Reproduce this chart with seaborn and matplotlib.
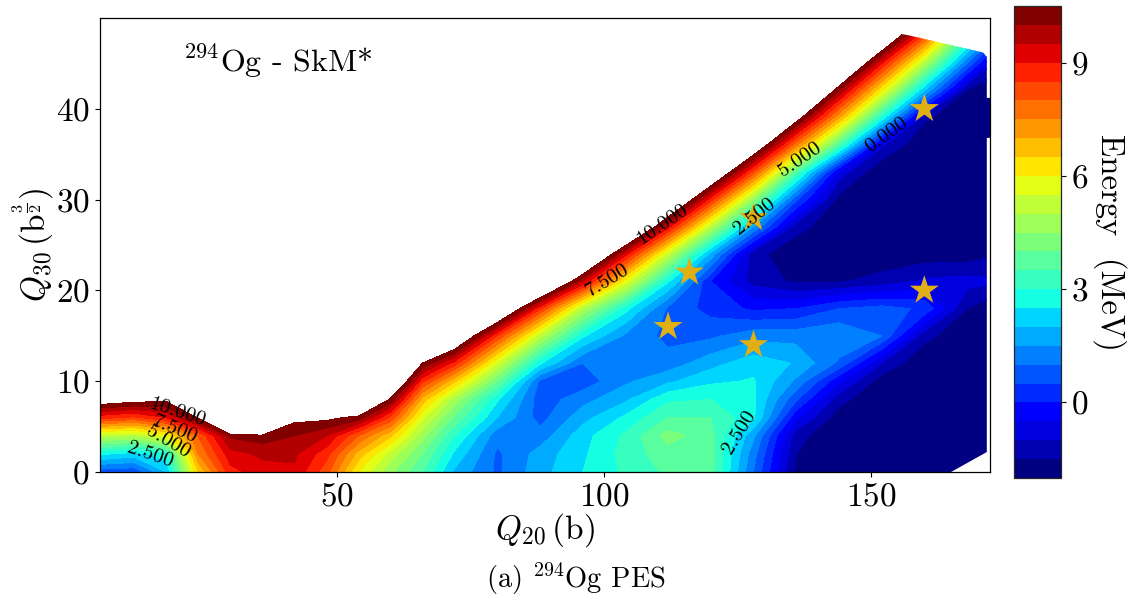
import matplotlib
matplotlib.use('Agg')
import matplotlib.pyplot as plt
from matplotlib.path import Path
import numpy as np
import pandas as pd
import seaborn as sns

# Q20 (b) columns and Q30 rows of the energy table, values in MeV
q20 = [5.6, 12, 18, 24, 30, 36, 42, 48, 54, 60, 66, 72, 80, 88, 96, 104, 112, 120, 128, 136, 144, 152, 160, 168, 172.3]
q30 = [0, 2, 4, 6, 8, 10, 12, 15, 18, 21, 24, 27, 30, 33, 36, 39, 42, 45, 48, 50]

e00 = [0.7, 0.6, 2.0, 6.5, 8.8, 9.3, 9.4, 8.2, 6.0, 4.6, 3.5, 1.9, 0.9, 1.8, 2.5, 3.1, 3.6, 3.7, 1.0, -1.7, -2, -2, -2, -2, -2]
e02 = [2.6, 2.3, 2.8, 7.5, 9.3, 9.6, 9.6, 8.7, 6.8, 5.3, 4.0, 2.4, 0.9, 1.7, 2.4, 3.2, 3.8, 3.7, 1.2, -1.5, -2, -2, -2, -2, -2]
e04 = [5.2, 5.0, 5.8, 8.0, 10.1, 10.3, 10.0, 9.5, 8.0, 6.6, 4.7, 3.0, 1.2, 1.2, 2.3, 3.1, 4.2, 3.7, 1.6, -1.3, -2, -2, -2, -2, -2]
e06 = [8.7, 8.4, 9.0, 10.6, 15, 17, 10.7, 10.7, 10.3, 8.4, 5.6, 3.9, 2.0, 0.8, 1.8, 2.6, 3.5, 3.5, 2.6, -0.4, -1.8, -2, -2, -2, -2]
e08 = [11.2, 10.9, 10.7, 14, 19, 20, 17, 15, 13, 10.4, 6.8, 4.8, 2.6, 0.7, 1.3, 1.9, 2.9, 3.0, 2.6, 0.6, -1.3, -2, -2, -2, -2]
e10 = [20, 20, 20, 20, 20, 20, 20, 20, 18, 12.5, 8.6, 6.6, 4.0, 0.9, 0.7, 1.4, 1.9, 2.4, 2.55, 1.4, -0.4, -1.8, -2, -2, -2]
e12 = [20, 20, 20, 20, 20, 20, 20, 20, 20, 15, 10.5, 8.8, 5.5, 2.6, 1.0, 1.2, 1.2, 1.8, 2.3, 1.95, 0.9, -1.0, -2, -2, -2]
e15 = [20, 20, 20, 20, 20, 20, 20, 20, 20, 20, 16, 12.2, 8.5, 5.2, 2.6, 1.4, 0.85, 0.9, 1.3, 1.3, 1.45, 1.0, -1.3, -2, -2]
e18 = [20, 20, 20, 20, 20, 20, 20, 20, 20, 20, 20, 17, 12.6, 8.6, 5.0, 2.7, 0.9, 0.3, -0.1, 0, 0.5, 0.7, 0.4, -1.5, -1.9]
e21 = [20, 20, 20, 20, 20, 20, 20, 20, 20, 20, 20, 20, 17.5, 13.4, 9.5, 5.8, 2.6, 0, -1.2, -1.6, -1.55, -1.3, -0.9, -0.8, -0.9]
e24 = [20, 20, 20, 20, 20, 20, 20, 20, 20, 20, 20, 20, 20, 17.5, 13.4, 9.2, 5.3, 1.8, -1.3, -1.9, -1.9, -1.9, -1.8, -1.8, -1.6]
e27 = [20, 20, 20, 20, 20, 20, 20, 20, 20, 20, 20, 20, 20, 20, 17.5, 13.4, 9.2, 5.1, 1.5, -1.3, -1.9, -2, -2, -2, -2]
e30 = [20, 20, 20, 20, 20, 20, 20, 20, 20, 20, 20, 20, 20, 20, 20, 17, 12.8, 8.7, 4.5, 0.6, -1.7, -2, -2, -2, -2]
e33 = [20, 20, 20, 20, 20, 20, 20, 20, 20, 20, 20, 20, 20, 20, 20, 20, 16.5, 12.3, 8.2, 3.5, -0.7, -2, -2, -2, -2]
e36 = [20, 20, 20, 20, 20, 20, 20, 20, 20, 20, 20, 20, 20, 20, 20, 20, 20, 16, 11.8, 7.6, 3.5, -0.9, -2, -2, -2]
e39 = [20, 20, 20, 20, 20, 20, 20, 20, 20, 20, 20, 20, 20, 20, 20, 20, 20, 19.3, 15.2, 11, 7, 2.8, -1.4, -2, -2]
e42 = [20, 20, 20, 20, 20, 20, 20, 20, 20, 20, 20, 20, 20, 20, 20, 20, 20, 20, 18.3, 14.1, 10, 6, 2, -1.6, -2]
e45 = [20, 20, 20, 20, 20, 20, 20, 20, 20, 20, 20, 20, 20, 20, 20, 20, 20, 20, 20, 17.2, 13.1, 9, 5, 1, -0.9]
e48 = [20, 20, 20, 20, 20, 20, 20, 20, 20, 20, 20, 20, 20, 20, 20, 20, 20, 20, 20, 20, 17, 12.3, 8.2, 3.5, 1.5]
e50 = [20, 20, 20, 20, 20, 20, 20, 20, 20, 20, 20, 20, 20, 20, 20, 20, 20, 20, 20, 20, 20, 15, 10.5, 5, 3]

# where the calculation stops on the right hand side
domain_q20 = [5.6, 5.6, 155.2, 157, 171, 171.7, 171.7, 172.3, 172.3, 171.7, 171.7, 165, 5.6]
domain_q30 = [0, 50, 48.3, 48.1, 46.2, 45.7, 41.2, 41.2, 36.8, 36.8, 2.2, 0, 0]

star_q20 = [160, 128, 116, 112, 128, 160]
star_q30 = [40, 28, 22, 16, 14, 20]

fill_levels = np.arange(-2, 10.75, 0.5)
line_levels = [0, 2.5, 5, 7.5, 10]
cbar_ticks = [0, 3, 6, 9]

label_spots = [(152.6, 37.4), (128, 28.3), (136.7, 34.4), (101, 20.8), (111.4, 26.9),
               (15, 1.9), (19, 3.7), (20, 5.3), (20, 6.5), (125, 4.6)]

sns.set_style('ticks')
plt.rcParams['font.family'] = ['cmr10', 'DejaVu Serif']
plt.rcParams['mathtext.fontset'] = 'cm'
plt.rcParams['axes.formatter.use_mathtext'] = True
plt.rcParams['axes.unicode_minus'] = False
plt.rcParams['text.color'] = 'black'
plt.rcParams['axes.labelcolor'] = 'black'
plt.rcParams['xtick.color'] = 'black'
plt.rcParams['ytick.color'] = 'black'

energy = np.array([e00, e02, e04, e06, e08, e10, e12, e15, e18, e21, e24, e27,
                   e30, e33, e36, e39, e42, e45, e48, e50])
stars = pd.DataFrame({'q20': star_q20, 'q30': star_q30})

fig = plt.figure(figsize=(11.36, 5.99), dpi=100)
ax = fig.add_axes([100 / 1136, 1 - 472 / 599, 890 / 1136, 454 / 599])
cax = fig.add_axes([1014 / 1136, 1 - 478 / 599, 47 / 1136, 472 / 599])

jet = plt.get_cmap('jet', len(fill_levels) - 1)
norm = matplotlib.colors.BoundaryNorm(fill_levels, jet.N)
filled = ax.contourf(q20, q30, energy, levels=fill_levels, cmap=jet, norm=norm)
filled.set_clip_path(Path(np.column_stack([domain_q20, domain_q30])), ax.transData)

lines = ax.contour(q20, q30, energy, levels=line_levels, colors='k', linewidths=0)

sns.scatterplot(data=stars, x='q20', y='q30', marker='*', s=480, color='#DFAF14',
                edgecolor='none', zorder=3, ax=ax, legend=False)

labels = ax.clabel(lines, fmt='%.3f', fontsize=15, inline=False, manual=label_spots)
for t in labels:
    t.set_zorder(5)

ax.set_xlim(5.6, 172.3)
ax.set_ylim(0, 50)
ax.set_xticks([50, 100, 150])
ax.set_yticks([0, 10, 20, 30, 40])
ax.tick_params(labelsize=24, length=3.5, width=0.8, pad=4)
ax.set_xlabel(r'$Q_{20}\,(\mathrm{b})$', fontsize=24, labelpad=0)
ax.set_ylabel(r'$Q_{30}\,(\mathrm{b}^{\frac{3}{2}})$', fontsize=24, labelpad=0)
for side in ax.spines.values():
    side.set_visible(True)
    side.set_linewidth(0.9)
    side.set_color('black')

ax.text(21.1, 45.2, r'$^{294}\mathrm{Og}$ - SkM*', fontsize=23, va='center', ha='left')
fig.text(576 / 1136, 1 - 579 / 599, r'(a) $^{294}\mathrm{Og}$ PES', fontsize=20.5, ha='center', va='center')

cbar = fig.colorbar(filled, cax=cax, ticks=cbar_ticks)
cbar.ax.minorticks_off()
cbar.ax.tick_params(labelsize=24, length=3.5, width=0.8)
cbar.set_label('Energy  (MeV)', fontsize=23.5, rotation=270, labelpad=28)
cbar.outline.set_linewidth(0.9)

fig.savefig('out.png', dpi=100)
